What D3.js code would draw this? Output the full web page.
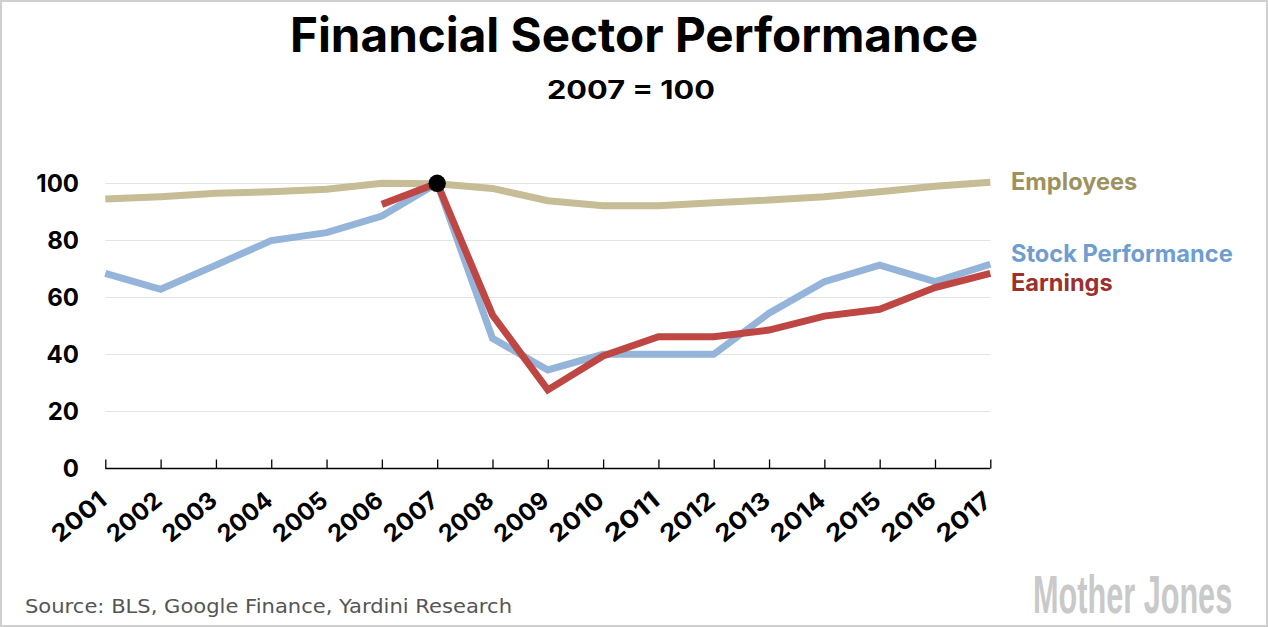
<!DOCTYPE html>
<html>
<head>
<meta charset="utf-8">
<script src="https://cdn.jsdelivr.net/npm/d3@7"></script>
<style>
  html, body { margin: 0; padding: 0; background: #fff; }
  svg { display: block; }
</style>
</head>
<body>
<svg id="chart" width="1268" height="627"></svg>
<script>
const years = [2001,2002,2003,2004,2005,2006,2007,2008,2009,2010,2011,2012,2013,2014,2015,2016,2017];
const employees = [94.5,95.3,96.5,97,97.9,100,99.8,98.2,93.9,92.1,92.1,93.2,94.1,95.3,97,99,100.4];
const stock = [68.4,62.8,71.3,79.9,82.7,88.5,100,45.6,34.5,40,40,40,54.4,65.5,71.3,65.5,71.6];
const earningsYears = [2006,2007,2008,2009,2010,2011,2012,2013,2014,2015,2016,2017];
const earnings = [92.6,100,53.8,27.5,39.4,46.2,46.2,48.5,53.4,55.8,63.4,68.4];
const yTicks = [0,20,40,60,80,100];
const seriesLabels = ["Employees","Stock Performance","Earnings"];

const svg = d3.select("#chart");
const W = 1268, H = 627;
const font = "Inter, 'Open Sans', sans-serif";

// border
svg.append("rect").attr("x",1).attr("y",1).attr("width",W-2).attr("height",H-2)
  .attr("fill","#fff").attr("stroke","#cfcfcf").attr("stroke-width",2);

const x = d3.scaleLinear().domain([2001,2017]).range([105.3,990.3]);
const y = d3.scaleLinear().domain([0,100]).range([468.3,183.3]);

// gridlines
svg.append("g").selectAll("line").data(yTicks.filter(d=>d>0)).join("line")
  .attr("x1",x(2001)).attr("x2",x(2017))
  .attr("y1",d=>Math.round(y(d))+0.5).attr("y2",d=>Math.round(y(d))+0.5)
  .attr("stroke","#e4e4e4").attr("stroke-width",1);

// y tick labels
svg.append("g").selectAll("text").data(yTicks).join("text")
  .attr("x",79).attr("y",d=>y(d)).attr("dy","0.36em")
  .attr("text-anchor","end")
  .attr("font-family",font).attr("font-weight",700).attr("font-size",24)
  .attr("fill","#000").text(d=>d);

// x axis
const xAxis = d3.axisBottom(x).tickValues(years).tickSize(-9).tickFormat("");
const gx = svg.append("g").attr("transform",`translate(0,${Math.round(y(0))+0.5})`).call(xAxis);
gx.select(".domain").attr("stroke","#000").attr("stroke-width",1.5).attr("d",`M${x(2001)},0H${x(2017)}`);
gx.selectAll(".tick line").attr("stroke","#000").attr("stroke-width",1.3);

// x tick labels rotated
svg.append("g").selectAll("text").data(years).join("text")
  .attr("transform",d=>`translate(${x(d)+3},503) rotate(-40)`)
  .attr("text-anchor","end")
  .attr("font-family",font).attr("font-weight",700).attr("font-size",24)
  .attr("textLength",63).attr("lengthAdjust","spacingAndGlyphs")
  .attr("fill","#000").text(d=>d);

const line = d3.line().x(d=>x(d[0])).y(d=>y(d[1]));

const series = [
  {data: years.map((yr,i)=>[yr,employees[i]]), color:"#c6bc96"},
  {data: years.map((yr,i)=>[yr,stock[i]]), color:"#94b4d9"},
  {data: earningsYears.map((yr,i)=>[yr,earnings[i]]), color:"#be4744"}
];
svg.append("g").selectAll("path").data(series).join("path")
  .attr("d",d=>line(d.data)).attr("fill","none")
  .attr("stroke",d=>d.color).attr("stroke-width",7)
  .attr("stroke-linejoin","miter").attr("stroke-linecap","butt");

// dot at 2007 = 100
svg.append("circle").attr("cx",x(2007)).attr("cy",y(100)).attr("r",8.7).attr("fill","#000");

// legend labels
const legend = [
  {t: seriesLabels[0], y: 189.5, c: "#9d925e"},
  {t: seriesLabels[1], y: 261.8, c: "#6f9dcf"},
  {t: seriesLabels[2], y: 290.8, c: "#9b302d"}
];
svg.append("g").selectAll("text").data(legend).join("text")
  .attr("x",1011).attr("y",d=>d.y)
  .attr("font-family",font).attr("font-weight",700).attr("font-size",23.6)
  .attr("fill",d=>d.c).text(d=>d.t);

// title
svg.append("text").attr("x",634).attr("y",52).attr("text-anchor","middle")
  .attr("font-family",font).attr("font-weight",700).attr("font-size",48)
  .attr("textLength",688).attr("lengthAdjust","spacingAndGlyphs")
  .attr("fill","#000").text("Financial Sector Performance");
svg.append("text").attr("x",631).attr("y",99).attr("text-anchor","middle")
  .attr("font-family",font).attr("font-weight",700).attr("font-size",25)
  .attr("textLength",168).attr("lengthAdjust","spacingAndGlyphs")
  .attr("fill","#000").text("2007 = 100");

// source
svg.append("text").attr("x",25).attr("y",613)
  .attr("font-family","'DejaVu Sans', Verdana, sans-serif").attr("font-size",20)
  .attr("textLength",487).attr("lengthAdjust","spacingAndGlyphs")
  .attr("fill","#555").text("Source: BLS, Google Finance, Yardini Research");

// logo (condensed)
svg.append("text").attr("transform","translate(1033,613) scale(0.6,1)")
  .attr("font-family","'Liberation Sans Narrow', 'Liberation Sans', sans-serif")
  .attr("font-weight",700).attr("font-size",54)
  .attr("textLength",332).attr("lengthAdjust","spacingAndGlyphs")
  .attr("fill","#c9c9c9").text("Mother Jones");
</script>
</body>
</html>
